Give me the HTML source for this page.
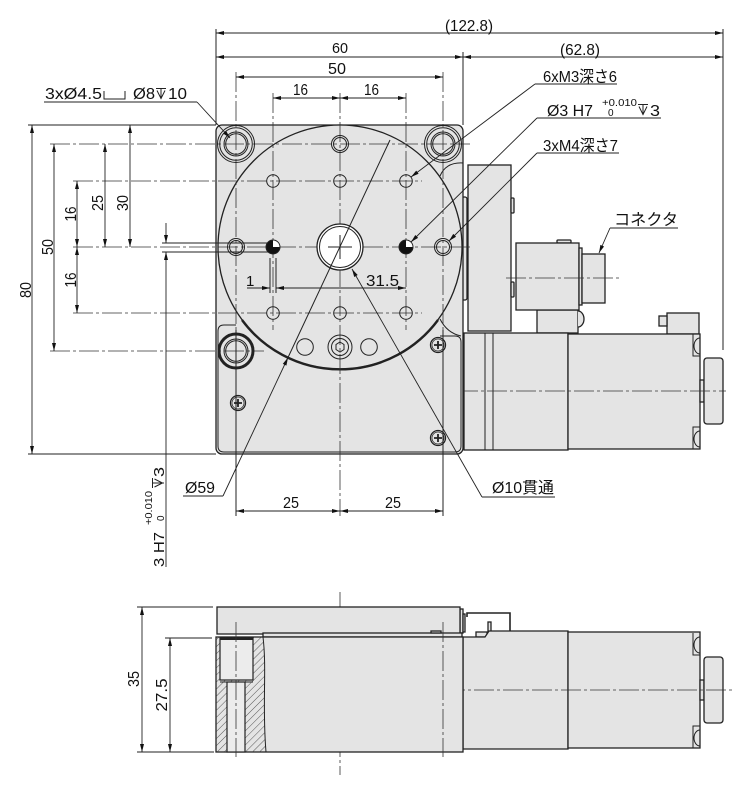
<!DOCTYPE html>
<html><head><meta charset="utf-8"><style>
html,body{margin:0;padding:0;background:#fff;}
svg{display:block}
text{font-family:"Liberation Sans","Noto Sans CJK JP",sans-serif;fill:#111;}
.l{stroke:#222;stroke-width:1;fill:none}
.o{stroke:#222;stroke-width:1.3;fill:#e4e4e4}
.c{stroke:#333;stroke-width:0.8;fill:none;stroke-dasharray:20,3,3,3}
.d{stroke:#222;stroke-width:0.9;fill:none;marker-start:url(#a);marker-end:url(#a)}
.e{stroke:#222;stroke-width:0.9;fill:none;marker-end:url(#a)}
.s{stroke:#222;stroke-width:0.9;fill:none;marker-start:url(#a)}
</style></head><body>
<svg width="748" height="793" viewBox="0 0 748 793" xmlns="http://www.w3.org/2000/svg">
<defs>
<marker id="a" viewBox="-9 -3 10 6" refX="0" refY="0" markerWidth="10" markerHeight="6" markerUnits="userSpaceOnUse" orient="auto-start-reverse"><path d="M-8,-2 L0,0 L-8,2 z" fill="#111"/></marker>
<pattern id="h" width="5" height="5" patternUnits="userSpaceOnUse" patternTransform="rotate(45)"><line x1="0" y1="0" x2="0" y2="5" stroke="#333" stroke-width="0.8"/></pattern>
</defs>
<rect width="748" height="793" fill="#fff"/>

<!-- ================= TOP VIEW ================= -->
<!-- right side parts behind -->
<rect x="458" y="228" width="8" height="40" rx="2" class="o" stroke-width="1"/>
<rect x="462" y="197" width="5" height="103" rx="2" class="o" stroke-width="1"/>
<rect x="468" y="165" width="43" height="166" class="o"/>
<rect x="511" y="198" width="3" height="15" rx="1" class="o" stroke-width="1"/>
<rect x="511" y="282" width="3" height="15" rx="1" class="o" stroke-width="1"/>
<rect x="537" y="310" width="41" height="23" class="o"/>
<path d="M578,311 A6,8 0 0,1 578,327" class="o" stroke-width="1"/>
<rect x="557" y="240" width="14" height="3" rx="1" class="o" stroke-width="1"/>
<rect x="516" y="243" width="63" height="67" class="o"/>
<rect x="579" y="248" width="3" height="57" class="o" stroke-width="1"/>
<rect x="582" y="254" width="23" height="49" class="o"/>
<line x1="506" y1="278" x2="621" y2="278" class="c"/>

<!-- motor top view -->
<rect x="667" y="313" width="32" height="21" class="o"/>
<rect x="659" y="316" width="8" height="10" class="o" stroke-width="1"/>
<rect x="464" y="333" width="104" height="117" class="o"/>
<line x1="485" y1="333" x2="485" y2="450" class="l"/>
<line x1="493" y1="333" x2="493" y2="450" class="l"/>
<rect x="568" y="334" width="132" height="115" class="o"/>
<path d="M693,334 V356 H700 M700,338 A6,8 0 0,0 700,354" class="l"/>
<path d="M693,449 V427 H700 M700,431 A6,8 0 0,0 700,447" class="l"/>
<rect x="700" y="380" width="4" height="22" class="o" stroke-width="1"/>
<rect x="704" y="358" width="19" height="66" rx="3" class="o"/>
<line x1="458" y1="391" x2="726" y2="391" class="c"/>

<!-- base plate -->
<rect x="216" y="125" width="247" height="329" rx="6" class="o"/>
<path d="M236,325 L224,325 Q218,325 218,331 L218,446 Q218,452 224,452 L455,452 Q461,452 461,446 L461,342 Q461,336 455,336 L440,336" class="l"/>
<path d="M463,163 Q446,162 440,176" class="l"/>
<path d="M440,319 Q447,333 461,336" class="l"/>

<!-- rotary table circle -->
<circle cx="340" cy="247" r="122" class="o" stroke-width="1.2"/>
<path d="M242,320 A122,122 0 0,0 438,320" fill="none" stroke="#222" stroke-width="2.4"/>

<!-- center lines -->
<line x1="340" y1="93" x2="340" y2="516" class="c"/>
<line x1="73" y1="247" x2="472" y2="247" class="c"/>
<line x1="236" y1="72" x2="236" y2="330" class="c"/>
<line x1="443" y1="72" x2="443" y2="330" class="c"/>
<line x1="273" y1="93" x2="273" y2="330" class="c"/>
<line x1="406" y1="93" x2="406" y2="330" class="c"/>
<line x1="50" y1="144" x2="470" y2="144" class="c"/>
<line x1="73" y1="181" x2="422" y2="181" class="c"/>
<line x1="73" y1="313" x2="422" y2="313" class="c"/>
<line x1="50" y1="351" x2="264" y2="351" class="c"/>
<line x1="236" y1="330" x2="236" y2="516" class="l" stroke-width="0.9"/>
<line x1="443" y1="455" x2="443" y2="516" class="l" stroke-width="0.9"/>
<line x1="443" y1="330" x2="443" y2="455" class="l" stroke-width="0.9"/>

<!-- counterbore holes -->
<g class="l" stroke-width="1.2">
<circle cx="236" cy="144" r="18.5"/><circle cx="236" cy="144" r="16.3"/><circle cx="236" cy="144" r="12"/><circle cx="236" cy="144" r="10.3"/>
<circle cx="443" cy="144" r="18.5"/><circle cx="443" cy="144" r="16.3"/><circle cx="443" cy="144" r="12"/><circle cx="443" cy="144" r="10.3"/>
<circle cx="236" cy="351" r="17" stroke-width="3"/><circle cx="236" cy="351" r="12"/><circle cx="236" cy="351" r="10.3"/>
</g>
<!-- M4 holes -->
<g class="l" stroke-width="1.2">
<circle cx="340" cy="144" r="8.5"/><circle cx="340" cy="144" r="6.5"/>
<circle cx="236" cy="247" r="8.5"/><circle cx="236" cy="247" r="6.5"/>
<circle cx="443" cy="247" r="8.5"/><circle cx="443" cy="247" r="6.5"/>
</g>
<!-- M3 holes -->
<g class="l" stroke-width="1.7">
<circle cx="273" cy="181" r="6.3"/><circle cx="340" cy="181" r="6.3"/><circle cx="406" cy="181" r="6.3"/>
<circle cx="273" cy="313" r="6.3"/><circle cx="340" cy="313" r="6.3"/><circle cx="406" cy="313" r="6.3"/>
</g>
<!-- pin holes -->
<circle cx="273" cy="247" r="7" fill="#111"/>
<path d="M273,247 L280,247 A7,7 0 0,0 273,240 z" fill="#fff"/>
<circle cx="273" cy="247" r="7" class="l" stroke-width="1.5"/>
<circle cx="406" cy="247" r="7" fill="#111"/>
<path d="M406,247 L413,247 A7,7 0 0,0 406,240 z" fill="#fff"/>
<circle cx="406" cy="247" r="7" class="l" stroke-width="1.5"/>
<!-- center through hole -->
<circle cx="340" cy="247" r="23" fill="#fff" stroke="#222" stroke-width="1.3"/>
<circle cx="340" cy="247" r="20.5" class="l"/>
<line x1="328" y1="247" x2="352" y2="247" class="l" stroke-width="0.8"/>
<line x1="340" y1="235" x2="340" y2="259" class="l" stroke-width="0.8"/>
<!-- bottom holes -->
<circle cx="305" cy="347" r="8.3" class="l" stroke-width="1.6"/>
<circle cx="369" cy="347" r="8.3" class="l" stroke-width="1.6"/>
<circle cx="340" cy="347" r="12" class="l" stroke-width="3"/>
<circle cx="340" cy="347" r="8.5" class="l"/>
<path d="M340,342 L344,344.5 L344,349.5 L340,352 L336,349.5 L336,344.5 z" class="l" stroke-width="0.8"/>
<!-- screws -->
<g class="l">
<circle cx="438" cy="345" r="7.5" stroke-width="1.3"/><circle cx="438" cy="345" r="6" stroke-width="0.7"/>
<circle cx="238" cy="403" r="7.5" stroke-width="1.3"/><circle cx="238" cy="403" r="6" stroke-width="0.7"/>
<circle cx="438" cy="438" r="7.5" stroke-width="1.3"/><circle cx="438" cy="438" r="6" stroke-width="0.7"/>
<path d="M434,345 h8 M438,341 v8 M234,403 h8 M238,399 v8 M434,438 h8 M438,434 v8" stroke-width="1.8"/>
</g>

<!-- leaders through drawing -->
<line x1="390" y1="140" x2="288" y2="357.5" class="l" stroke-width="0.9"/>
<line x1="223" y1="496" x2="288" y2="357.5" class="e"/>
<line x1="482" y1="497" x2="352" y2="269" class="e"/>
<line x1="535" y1="84" x2="411" y2="177" class="e"/>
<line x1="537" y1="118" x2="411" y2="242" class="e"/>
<line x1="537" y1="153" x2="449" y2="241" class="e"/>
<line x1="197" y1="102" x2="230" y2="138" class="e"/>
<line x1="610" y1="228" x2="599" y2="253" class="e"/>

<!-- underlines -->
<g class="l" stroke-width="0.9">
<line x1="44" y1="102" x2="197" y2="102"/>
<line x1="535" y1="84" x2="617" y2="84"/>
<line x1="537" y1="118" x2="661" y2="118"/>
<line x1="537" y1="153" x2="619" y2="153"/>
<line x1="610" y1="228" x2="678" y2="228"/>
<line x1="183" y1="496" x2="223" y2="496"/>
<line x1="482" y1="497" x2="555" y2="497"/>
</g>

<!-- top dimensions -->
<g class="l" stroke-width="0.9">
<line x1="216" y1="29" x2="216" y2="125"/>
<line x1="463" y1="52" x2="463" y2="125"/>
<line x1="723" y1="29" x2="723" y2="350"/>
</g>
<line x1="216" y1="33" x2="723" y2="33" class="d"/>
<line x1="216" y1="57" x2="463" y2="57" class="d"/>
<line x1="463" y1="57" x2="723" y2="57" class="d"/>
<line x1="236" y1="77" x2="443" y2="77" class="d"/>
<line x1="273" y1="98" x2="340" y2="98" class="d"/>
<line x1="340" y1="98" x2="406" y2="98" class="d"/>

<!-- left dimensions -->
<g class="l" stroke-width="0.9">
<line x1="28" y1="125" x2="216" y2="125"/>
<line x1="28" y1="454" x2="216" y2="454"/>
<line x1="162" y1="243" x2="268" y2="243"/>
<line x1="162" y1="252" x2="268" y2="252"/>
<line x1="270" y1="258" x2="270" y2="293"/>
<line x1="276" y1="258" x2="276" y2="293"/>
</g>
<line x1="32" y1="125" x2="32" y2="454" class="d"/>
<line x1="54" y1="144" x2="54" y2="351" class="d"/>
<line x1="77" y1="181" x2="77" y2="247" class="d"/>
<line x1="77" y1="247" x2="77" y2="313" class="d"/>
<line x1="105" y1="144" x2="105" y2="247" class="d"/>
<line x1="130" y1="125" x2="130" y2="247" class="d"/>
<line x1="166" y1="223" x2="166" y2="243" class="e"/>
<line x1="166" y1="567" x2="166" y2="252" class="e"/>
<!-- 1 and 31.5 -->
<line x1="247" y1="288" x2="270" y2="288" class="e"/>
<line x1="276" y1="288" x2="406" y2="288" class="d"/>
<!-- bottom 25/25 -->
<line x1="236" y1="511" x2="340" y2="511" class="d"/>
<line x1="340" y1="511" x2="443" y2="511" class="d"/>

<!-- ================= TEXT (top view) ================= -->
<text x="445" y="31" font-size="16" textLength="48" lengthAdjust="spacingAndGlyphs">(122.8)</text>
<text x="332" y="53" font-size="15" textLength="16" lengthAdjust="spacingAndGlyphs">60</text>
<text x="328" y="74" font-size="16" textLength="18" lengthAdjust="spacingAndGlyphs">50</text>
<text x="293" y="95" font-size="16" textLength="15" lengthAdjust="spacingAndGlyphs">16</text>
<text x="364" y="95" font-size="16" textLength="15" lengthAdjust="spacingAndGlyphs">16</text>
<text x="560" y="55" font-size="16" textLength="40" lengthAdjust="spacingAndGlyphs">(62.8)</text>

<text x="45" y="99" font-size="16" textLength="57" lengthAdjust="spacingAndGlyphs">3xØ4.5</text>
<path d="M104,91 V99 H125 V91" class="l"/>
<text x="133" y="99" font-size="16" textLength="22" lengthAdjust="spacingAndGlyphs">Ø8</text>
<path d="M156,88.5 H166 M157,90.5 L161,98.5 L165,90.5 M161,88.5 V99" class="l"/>
<text x="168" y="99" font-size="16" textLength="19" lengthAdjust="spacingAndGlyphs">10</text>

<text x="543" y="82" font-size="16" textLength="74" lengthAdjust="spacingAndGlyphs">6xM3深さ6</text>
<text x="547" y="116" font-size="16" textLength="46" lengthAdjust="spacingAndGlyphs">Ø3  H7</text>
<text x="602" y="106" font-size="10" textLength="35" lengthAdjust="spacingAndGlyphs">+0.010</text>
<text x="608" y="116" font-size="10">0</text>
<path d="M638,104.5 H648 M639,106.5 L643,114.5 L647,106.5 M643,104.5 V115" class="l"/>
<text x="650" y="116" font-size="16" textLength="10" lengthAdjust="spacingAndGlyphs">3</text>
<text x="543" y="151" font-size="16" textLength="75" lengthAdjust="spacingAndGlyphs">3xM4深さ7</text>
<text x="614" y="225" font-size="16" textLength="64" lengthAdjust="spacingAndGlyphs">コネクタ</text>

<text x="246" y="286" font-size="15">1</text>
<text x="366" y="286" font-size="16" textLength="33" lengthAdjust="spacingAndGlyphs">31.5</text>
<text x="283" y="508" font-size="16" textLength="16" lengthAdjust="spacingAndGlyphs">25</text>
<text x="385" y="508" font-size="16" textLength="16" lengthAdjust="spacingAndGlyphs">25</text>
<text x="185" y="493" font-size="16" textLength="30" lengthAdjust="spacingAndGlyphs">Ø59</text>
<text x="492" y="493" font-size="16" textLength="62" lengthAdjust="spacingAndGlyphs">Ø10貫通</text>

<!-- rotated left labels -->
<text transform="translate(31,290) rotate(-90)" text-anchor="middle" font-size="16" textLength="16" lengthAdjust="spacingAndGlyphs">80</text>
<text transform="translate(53,247) rotate(-90)" text-anchor="middle" font-size="16" textLength="16" lengthAdjust="spacingAndGlyphs">50</text>
<text transform="translate(76,214) rotate(-90)" text-anchor="middle" font-size="16" textLength="15" lengthAdjust="spacingAndGlyphs">16</text>
<text transform="translate(76,280) rotate(-90)" text-anchor="middle" font-size="16" textLength="15" lengthAdjust="spacingAndGlyphs">16</text>
<text transform="translate(103,203) rotate(-90)" text-anchor="middle" font-size="16" textLength="16" lengthAdjust="spacingAndGlyphs">25</text>
<text transform="translate(128,203) rotate(-90)" text-anchor="middle" font-size="16" textLength="16" lengthAdjust="spacingAndGlyphs">30</text>

<g transform="translate(164,567) rotate(-90)">
<text x="0" y="0" font-size="15" textLength="35" lengthAdjust="spacingAndGlyphs">3 H7</text>
<text x="42" y="-12" font-size="10" textLength="34" lengthAdjust="spacingAndGlyphs">+0.010</text>
<text x="46" y="0" font-size="10">0</text>
<path d="M79,-11.5 H89 M80,-9.5 L84,-1.5 L88,-9.5 M84,-11.5 V0" class="l"/>
<text x="90" y="0" font-size="15" textLength="10" lengthAdjust="spacingAndGlyphs">3</text>
</g>

<!-- ================= SIDE VIEW ================= -->
<line x1="340" y1="592" x2="340" y2="775" class="c"/>
<!-- bracket -->
<path d="M467,617 L467,613 L510,613 L510,631" fill="none" stroke="#222" stroke-width="1.6"/>
<rect x="488" y="622" width="3" height="15" class="o" stroke-width="1"/>
<rect x="476" y="632" width="11" height="5" class="o" stroke-width="1"/>
<!-- top plate -->
<rect x="460" y="609" width="3" height="24" class="o" stroke-width="1"/>
<rect x="463" y="614" width="2" height="18" class="o" stroke-width="1"/>
<rect x="217" y="607" width="243" height="27" class="o"/>
<rect x="263" y="633" width="199" height="4" class="o" stroke-width="1"/>
<rect x="431" y="631" width="10" height="2" class="o" stroke-width="0.8"/>
<!-- gearbox / motor -->
<path d="M463,637 L485,637 L489,631 L568,631 L568,749 L463,749 z" class="o"/>
<rect x="568" y="632" width="132" height="116" class="o"/>
<path d="M693,633 V655 H700 M700,637 A6,8 0 0,0 700,653" class="l"/>
<path d="M693,748 V726 H700 M700,730 A6,8 0 0,0 700,746" class="l"/>
<rect x="700" y="680" width="4" height="20" class="o" stroke-width="1"/>
<rect x="704" y="657" width="19" height="66" rx="3" class="o"/>
<line x1="445" y1="690" x2="732" y2="690" class="c"/>
<!-- base body -->
<rect x="216" y="637" width="247" height="115" class="o"/>
<path d="M216,637 L263,637 C267,670 262,705 266,752 L216,752 z" fill="url(#h)"/>
<path d="M263,637 C267,670 262,705 266,752" class="l"/>
<rect x="220" y="638" width="33" height="42" fill="#ececec" stroke="#222" stroke-width="1.2"/>
<line x1="220" y1="639" x2="253" y2="639" stroke="#222" stroke-width="2"/>
<rect x="227" y="682" width="18" height="70" fill="#ececec" stroke="#222" stroke-width="1.2"/>
<line x1="220" y1="682" x2="253" y2="682" class="l"/>
<line x1="236" y1="622" x2="236" y2="757" class="c"/>
<line x1="443" y1="622" x2="443" y2="757" class="c"/>
<!-- side dims -->
<g class="l" stroke-width="0.9">
<line x1="137" y1="607" x2="213" y2="607"/>
<line x1="165" y1="638" x2="212" y2="638"/>
<line x1="137" y1="752" x2="214" y2="752"/>
</g>
<line x1="142" y1="607" x2="142" y2="752" class="d"/>
<line x1="170" y1="638" x2="170" y2="752" class="d"/>
<text transform="translate(139,679) rotate(-90)" text-anchor="middle" font-size="16" textLength="16" lengthAdjust="spacingAndGlyphs">35</text>
<text transform="translate(167,695) rotate(-90)" text-anchor="middle" font-size="16" textLength="33" lengthAdjust="spacingAndGlyphs">27.5</text>
</svg>
</body></html>
